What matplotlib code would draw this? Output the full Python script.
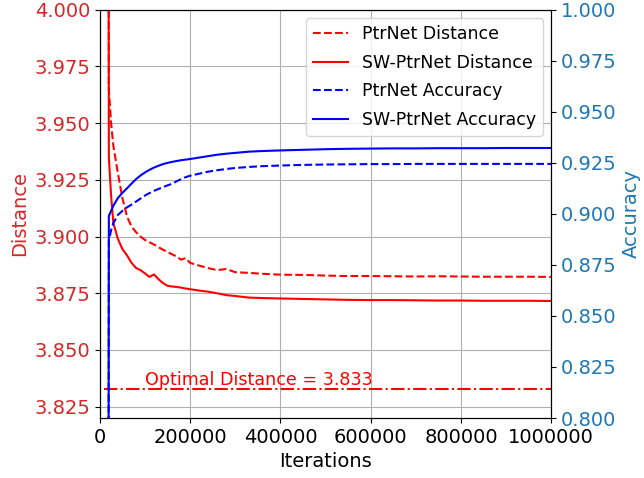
import matplotlib
matplotlib.use("Agg")
import matplotlib.pyplot as plt

# training curves
iterations = [18000, 20000, 25000, 30000, 40000, 50000, 60000, 70000, 80000, 90000,
              100000, 110000, 120000, 130000, 140000, 150000, 160000, 170000, 180000, 190000,
              200000, 220000, 240000, 260000, 280000, 300000, 330000, 360000, 400000, 450000,
              500000, 550000, 600000, 650000, 700000, 750000, 800000, 850000, 900000, 950000,
              1000000]

ptr_dist = [4.40, 3.965, 3.950, 3.940, 3.928, 3.917, 3.909, 3.9045, 3.9020, 3.9000,
            3.8985, 3.8975, 3.8965, 3.8953, 3.8942, 3.8932, 3.8922, 3.8912, 3.8898, 3.8905,
            3.8884, 3.8872, 3.8861, 3.8852, 3.8857, 3.8843, 3.8840, 3.8836, 3.8832, 3.8831,
            3.8828, 3.8826, 3.8826, 3.8825, 3.8824, 3.8825, 3.8824, 3.8823, 3.8823, 3.8823,
            3.8822]

sw_dist = [4.30, 3.935, 3.918, 3.906, 3.899, 3.8945, 3.8918, 3.8885, 3.8862, 3.8852,
           3.8838, 3.8822, 3.8833, 3.8812, 3.8795, 3.8783, 3.8780, 3.8778, 3.8775, 3.8771,
           3.8768, 3.8762, 3.8757, 3.8750, 3.8742, 3.8738, 3.8731, 3.8729, 3.8727, 3.8725,
           3.8723, 3.8721, 3.8720, 3.8720, 3.8719, 3.8718, 3.8718, 3.8717, 3.8717, 3.8717,
           3.8716]

ptr_acc = [0.500, 0.8870, 0.8920, 0.8955, 0.8995, 0.9015, 0.9032, 0.9045, 0.9060, 0.9075,
           0.9090, 0.9102, 0.9113, 0.9122, 0.9131, 0.9140, 0.9147, 0.9160, 0.9170, 0.9180,
           0.9187, 0.9197, 0.9207, 0.9214, 0.9220, 0.9225, 0.9230, 0.9234, 0.9237, 0.9240,
           0.9242, 0.9243, 0.9244, 0.9244, 0.9245, 0.9245, 0.9245, 0.9245, 0.9245, 0.9245,
           0.9245]

sw_acc = [0.500, 0.8990, 0.9015, 0.9040, 0.9078, 0.9103, 0.9125, 0.9148, 0.9170, 0.9188,
          0.9203, 0.9216, 0.9227, 0.9236, 0.9244, 0.9250, 0.9255, 0.9259, 0.9263, 0.9266,
          0.9269, 0.9276, 0.9283, 0.9290, 0.9295, 0.9299, 0.9305, 0.9308, 0.9311, 0.9314,
          0.9317, 0.9319, 0.9320, 0.9321, 0.9321, 0.9322, 0.9322, 0.9322, 0.9323, 0.9323,
          0.9323]

optimal = 3.833
opt_start, opt_end = 10000, 1000000

fig = plt.figure(figsize=(6.44, 4.78), dpi=100)
ax1 = fig.add_axes([0.155, 0.1255, 0.701, 0.854])

ax1.plot(iterations, ptr_dist, "r--", label="PtrNet Distance")
ax1.plot(iterations, sw_dist, "r-", label="SW-PtrNet Distance")
ax1.hlines(optimal, opt_start, opt_end, colors="r", linestyles="-.")
ax1.text(100000, 3.8345, "Optimal Distance = %.3f" % optimal, color="r", fontsize=12.6)
ax1.set_xlim(0, 1000000)
ax1.set_ylim(3.82, 4.0)
ax1.set_yticks([3.825, 3.85, 3.875, 3.9, 3.925, 3.95, 3.975, 4.0])
ax1.set_xlabel("Iterations", fontsize=14)
ax1.set_ylabel("Distance", color="tab:red", fontsize=14)
ax1.tick_params(axis="y", labelcolor="tab:red", labelsize=14)
ax1.tick_params(axis="x", labelsize=14)
ax1.ticklabel_format(axis="x", style="plain")
ax1.grid(True)

ax2 = ax1.twinx()
ax2.plot(iterations, ptr_acc, "b--", label="PtrNet Accuracy")
ax2.plot(iterations, sw_acc, "b-", label="SW-PtrNet Accuracy")
ax2.set_ylim(0.8, 1.0)
ax2.set_ylabel("Accuracy", color="tab:blue", fontsize=14)
ax2.tick_params(axis="y", labelcolor="tab:blue", labelsize=14)

lines = ax1.get_lines() + ax2.get_lines()
ax2.legend(lines, [l.get_label() for l in lines], loc="upper right", fontsize=12.5,
           labelspacing=0.6)

fig.savefig("out.png", dpi=100)
